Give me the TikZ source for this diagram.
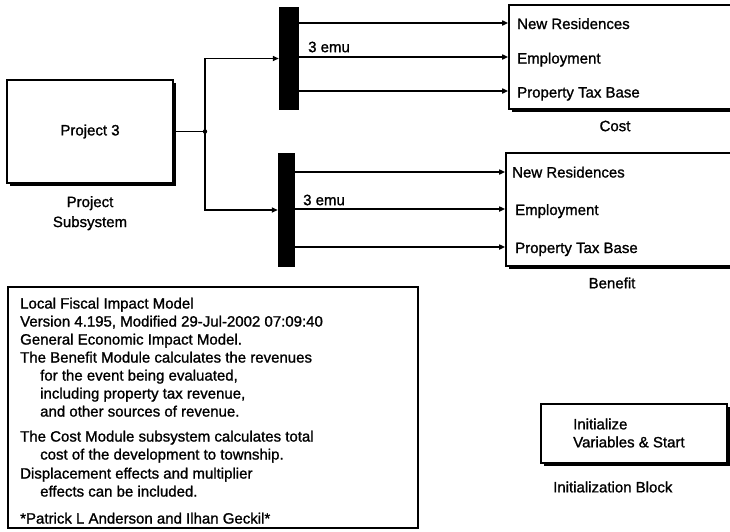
\documentclass[tikz,border=0pt]{standalone}
\usepackage{fontspec}
\setmainfont[FakeBold=1.2,AutoFakeBold=1.2]{Liberation Sans}
\usetikzlibrary{arrows.meta,shadows}
\begin{document}
\begin{tikzpicture}[x=1pt,y=-1pt,
  every node/.style={font=\fontsize{15}{18}\selectfont\bfseries},
  block/.style={draw, line width=1.6pt, fill=white, inner sep=0pt,
    drop shadow={shadow xshift=2.6pt, shadow yshift=-2.6pt, fill=black, opacity=1}},
  muxbar/.style={fill=black, draw=none, inner sep=0pt},
  note/.style={draw, line width=1.6pt, inner sep=0pt},
  lbl/.style={inner sep=0pt, text height=11pt, text depth=3pt},
  sig/.style={line width=1.6pt},
  arr/.style={sig, -{Triangle[length=6pt,width=5pt]}}]
\useasboundingbox (0,0) rectangle (730,531);
\clip (0,0) rectangle (730,531);

% project subsystem
\node[block, minimum width=166pt, minimum height=103pt] (proj) at (90,131.5) {Project 3};
\node[anchor=north, align=center, inner sep=0pt,
  font=\fontsize{15}{20}\selectfont\bfseries] (projlbl) at (90,196) {Project\\Subsystem};

% demux bars
\node[muxbar, minimum width=20pt, minimum height=103pt] (topbar) at (289,58.5) {};
\node[muxbar, minimum width=17pt, minimum height=114pt] (botbar) at (286.5,210) {};
\node[anchor=west, inner sep=0pt] (emua) at (308,47) {3 emu};
\node[anchor=west, inner sep=0pt] (emub) at (303,200) {3 emu};

% cost and benefit modules
\node[block, minimum width=232pt, minimum height=104pt] (cost) at (625,57) {};
\node[block, minimum width=234pt, minimum height=113pt] (bene) at (623,209.5) {};
\node[inner sep=0pt] (costlbl) at (615,126) {Cost};
\node[inner sep=0pt] (benelbl) at (612,283) {Benefit};

% input ports of the modules
\coordinate (c1) at (cost.west |- 0,23);
\coordinate (c2) at (cost.west |- 0,57);
\coordinate (c3) at (cost.west |- 0,91);
\coordinate (b1) at (bene.west |- 0,172);
\coordinate (b2) at (bene.west |- 0,209);
\coordinate (b3) at (bene.west |- 0,247);
\node[lbl, anchor=west] (cnr) at (517,25) {New Residences};
\node[lbl, anchor=west] (cem) at (517,59.5) {Employment};
\node[lbl, anchor=west] (cpt) at (517,93.5) {Property Tax Base};
\node[lbl, anchor=west] (bnr) at (512,173.5) {New Residences};
\node[lbl, anchor=west] (bem) at (515,211) {Employment};
\node[lbl, anchor=west] (bpt) at (515,249) {Property Tax Base};

% signal lines
\coordinate (junc) at (205,131.5);
\draw[sig] (proj.east) -- (junc);
\fill (junc) circle (2.2pt);
\draw[arr] (junc) |- (topbar.west);
\draw[arr] (junc) |- (botbar.west);
\draw[arr] (topbar.east |- c1) -- (c1);
\draw[arr] (topbar.east |- c2) -- (c2);
\draw[arr] (topbar.east |- c3) -- (c3);
\draw[arr] (botbar.east |- b1) -- (b1);
\draw[arr] (botbar.east |- b2) -- (b2);
\draw[arr] (botbar.east |- b3) -- (b3);

% description block
\node[note, minimum width=410pt, minimum height=241pt] (desc) at (213,407.5) {};
\node[anchor=north west, align=left, inner sep=0pt] (desctext) at (20,297.5) {%
Local Fiscal Impact Model\\
Version 4.195, Modified 29-Jul-2002 07:09:40\\
General Economic Impact Model.\\
The Benefit Module calculates the revenues\\
\hspace*{20pt}for the event being evaluated,\\
\hspace*{20pt}including property tax revenue,\\
\hspace*{20pt}and other sources of revenue.\\[7pt]
The Cost Module subsystem calculates total\\
\hspace*{20pt}cost of the development to township.\\[1pt]
Displacement effects and multiplier\\
\hspace*{20pt}effects can be included.\\[9pt]
*Patrick L Anderson and Ilhan Geckil*};

% initialization block
\node[block, minimum width=186pt, minimum height=59pt] (init) at (634,433.5) {};
\node[anchor=west, align=left, inner sep=0pt] (inittext) at (573,433) {Initialize\\Variables \& Start};
\node[anchor=west, inner sep=0pt] (initlbl) at (553,487) {Initialization Block};
\end{tikzpicture}
\end{document}
